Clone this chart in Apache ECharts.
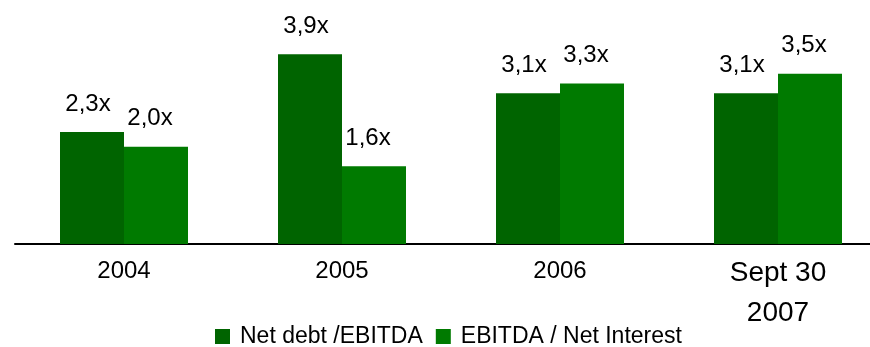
<!DOCTYPE html>
<html>
<head>
<meta charset="utf-8">
<script src="https://cdn.jsdelivr.net/npm/echarts@6/dist/echarts.min.js"></script>
<style>
  html, body { margin: 0; padding: 0; background: #fff; overflow: hidden; }
  /* the plot runs a little past the right edge of the page */
  #chart { width: 889px; height: 347px; }
</style>
</head>
<body>
<div id="chart"></div>
<script>
// Leverage ratios by period
const categories = ['2004', '2005', '2006', 'Sept 30\n2007'];
const netDebtEbitda = [2.3, 3.9, 3.1, 3.1];
const ebitdaNetInterest = [2.0, 1.6, 3.3, 3.5];
const seriesNames = ['Net debt /EBITDA', 'EBITDA / Net Interest'];

const FONT = '"Liberation Sans", Arial, sans-serif';
const fmt = p => p.value.toFixed(1).replace('.', ',') + 'x';

// Two-line category labels get the larger style
const catLabel = v => v.indexOf('\n') >= 0
  ? '{big|' + v.split('\n').join('}\n{big|') + '}'
  : '{small|' + v + '}';

const barLabel = (dx) => ({
  show: true, position: 'top', distance: 16, offset: [dx, 0],
  formatter: fmt, color: '#000', fontSize: 24, fontFamily: FONT
});

const chart = echarts.init(document.getElementById('chart'), null, { renderer: 'canvas' });
chart.setOption({
  animation: false,
  textStyle: { fontFamily: FONT },
  grid: { left: 15, right: 2, top: 25, bottom: 103, containLabel: false },
  legend: {
    data: seriesNames,
    bottom: -6,
    left: 210,
    itemWidth: 15,
    itemHeight: 15,
    itemGap: 13,
    icon: 'rect',
    textStyle: { fontFamily: FONT, fontSize: 23, color: '#000', padding: [0, 0, 0, 5] }
  },
  xAxis: {
    type: 'category',
    data: categories,
    axisLine: { lineStyle: { color: '#000', width: 2 } },
    axisTick: { show: false },
    axisLabel: {
      margin: 9,
      interval: 0,
      color: '#000',
      formatter: catLabel,
      rich: {
        small: { fontSize: 24, lineHeight: 36, fontFamily: FONT, color: '#000' },
        big: { fontSize: 28, lineHeight: 40, fontFamily: FONT, color: '#000' }
      }
    }
  },
  yAxis: {
    type: 'value',
    min: 0,
    max: 4.5,
    show: false,
    splitLine: { show: false }
  },
  series: [
    {
      name: seriesNames[0],
      type: 'bar',
      data: netDebtEbitda,
      barWidth: 64,
      barGap: '0%',
      itemStyle: { color: '#006400' },
      label: barLabel(-4)
    },
    {
      name: seriesNames[1],
      type: 'bar',
      data: ebitdaNetInterest,
      barWidth: 64,
      itemStyle: { color: '#007a00' },
      label: barLabel(-6)
    }
  ]
});
</script>
</body>
</html>
